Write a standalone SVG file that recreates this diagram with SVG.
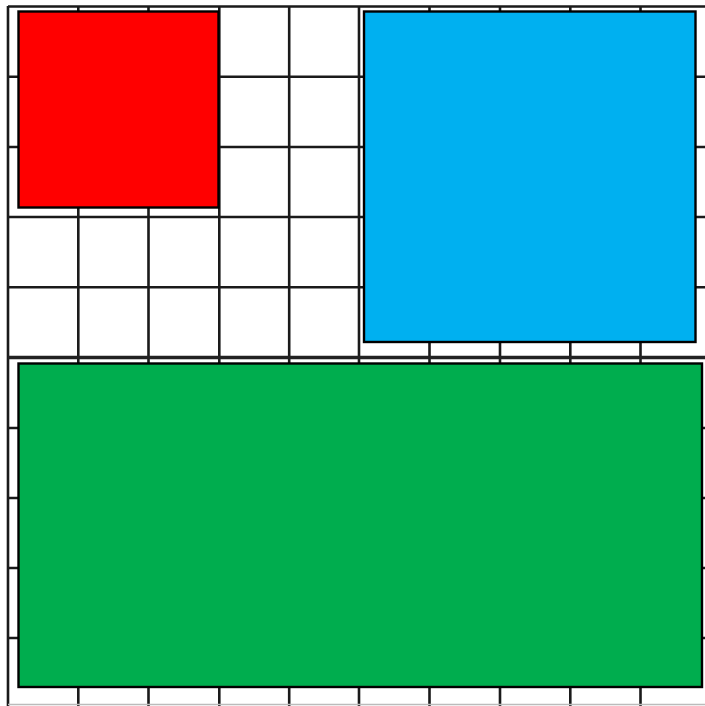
<svg xmlns="http://www.w3.org/2000/svg" width="705" height="706" viewBox="0 0 705 706">
<style>
.g{stroke:#1a1a1a;stroke-width:2.6;fill:none}
.box{stroke:#000;stroke-width:2.4}
</style>
<rect x="0" y="0" width="705" height="706" fill="#fff"/>
<g id="grid">
<path class="g" d="M8 6V706M78.3 6V706M148.5 6V706M219.3 6V706M289.2 6V706M359 6V706M429.5 6V706M500 6V706M570.3 6V706M640.5 6V706"/>
<path class="g" d="M8 6.5H705M8 76.7H705M8 147H705M8 217H705M8 287.3H705M8 568H705M8 638H705M8 498H705M8 428H705"/>
<path stroke="#222" stroke-width="3.4" fill="none" d="M8 357.5H705"/>
<path stroke="#bbb" stroke-width="1.5" fill="none" d="M8 704.5H705"/>
</g>
<g id="red"><rect class="box" x="18.5" y="11.5" width="200" height="196" fill="#ff0000"/></g>
<g id="blue"><rect class="box" x="364" y="11.5" width="331.5" height="330.5" fill="#00b0f0"/></g>
<g id="green"><rect class="box" x="18.5" y="363.5" width="683.5" height="323.5" fill="#00ad4e"/></g>
</svg>
